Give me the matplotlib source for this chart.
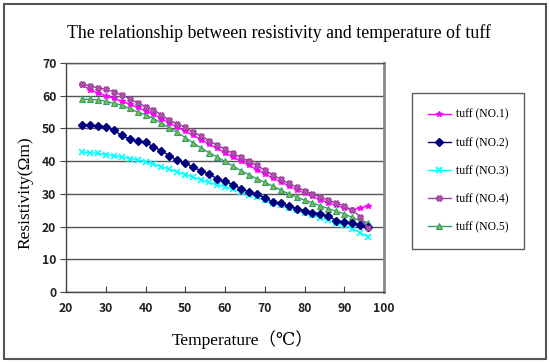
import matplotlib
matplotlib.use("Agg")
import matplotlib.pyplot as plt
from matplotlib.patches import Rectangle

temperature = list(range(24, 97, 2))

tuff_no1 = [63.4, 61.8, 60.8, 60.0, 59.2, 58.3, 57.4, 56.4, 55.4, 54.3, 53.0, 51.7,
            50.4, 49.2, 47.9, 46.6, 45.2, 43.9, 42.6, 41.3, 40.0, 38.7, 37.4, 36.1,
            34.9, 33.7, 32.5, 31.3, 30.2, 29.2, 28.2, 27.3, 26.5, 25.7, 25.0, 25.7, 26.3]
tuff_no2 = [51.2, 51.0, 50.8, 50.5, 49.4, 47.9, 46.7, 46.1, 45.7, 44.4, 43.2, 41.7,
            40.2, 39.4, 38.1, 37.1, 36.1, 34.6, 33.8, 32.8, 31.6, 30.6, 30.0, 28.8,
            27.6, 27.1, 26.3, 25.5, 24.9, 24.3, 23.9, 23.2, 21.8, 21.4, 21.2, 20.4, 19.8]
tuff_no3 = [42.8, 42.6, 42.4, 42.0, 41.6, 41.3, 40.8, 40.4, 39.8, 39.0, 38.3, 37.5,
            36.7, 35.9, 35.1, 34.3, 33.5, 32.8, 32.2, 31.4, 30.6, 29.8, 29.0, 28.0,
            27.2, 26.5, 25.8, 25.1, 24.3, 23.5, 22.7, 22.0, 21.2, 20.4, 19.4, 18.1, 16.8]
tuff_no4 = [63.6, 63.0, 62.4, 62.0, 61.2, 60.3, 59.1, 57.9, 56.7, 55.7, 54.2, 52.5,
            51.4, 50.4, 48.9, 47.7, 46.3, 44.9, 43.6, 42.4, 41.2, 40.0, 38.7, 37.3,
            35.8, 34.5, 33.2, 32.1, 31.0, 30.0, 29.1, 28.1, 27.3, 26.3, 25.1, 23.0, 19.5]
tuff_no5 = [58.9, 58.9, 58.7, 58.3, 57.7, 57.1, 56.1, 55.0, 54.2, 53.0, 51.7, 50.2,
            48.8, 47.2, 45.6, 44.0, 42.6, 41.3, 39.9, 38.5, 37.1, 35.9, 34.6, 33.5,
            32.4, 31.2, 30.0, 29.0, 28.1, 27.3, 26.3, 25.5, 24.7, 23.9, 22.8, 21.8, 21.2]

labels = ["tuff (NO.1)", "tuff (NO.2)", "tuff (NO.3)", "tuff (NO.4)", "tuff (NO.5)"]
x_ticks = [20, 30, 40, 50, 60, 70, 80, 90, 100]
y_ticks = [0, 10, 20, 30, 40, 50, 60, 70]

title = "The relationship between resistivity and temperature of tuff"
xlabel = "Temperature（℃）"
ylabel = "Resistivity(Ωm)"

W, H = 550, 362
fig = plt.figure(figsize=(W / 100, H / 100), dpi=100)

# outer border
fig.patches.append(Rectangle((4 / W, 3 / H), (W - 8) / W, (H - 7) / H,
                             transform=fig.transFigure, fill=False,
                             edgecolor="#555555", linewidth=1.5))

L, R, T, B = 66, 384, 63, 292
ax = fig.add_axes([L / W, 1 - B / H, (R - L) / W, (B - T) / H])

styles = [
    dict(color="#FF00FF", marker="*", markersize=4.0, markerfacecolor="#FF00FF",
         markeredgecolor="#FF00FF"),
    dict(color="#000080", marker="D", markersize=4, markerfacecolor="#000080",
         markeredgecolor="#000080"),
    dict(color="#00FFFF", marker="x", markersize=4.5, markeredgewidth=1.2),
    dict(color="#A040A0", marker="X", markersize=4.2, markerfacecolor="#C060B0",
         markeredgecolor="#A040A0", markeredgewidth=0.8),
    dict(color="#2FA070", marker="^", markersize=5, markerfacecolor="#8DBB3E",
         markeredgecolor="#2FA070", markeredgewidth=0.8),
]
series = [tuff_no1, tuff_no2, tuff_no3, tuff_no4, tuff_no5]
order = [4, 2, 1, 0, 3]
handles = {}
for i in order:
    h, = ax.plot(temperature, series[i], linewidth=1.0, label=labels[i], **styles[i])
    handles[i] = h

ax.set_xlim(20, 100)
ax.set_ylim(0, 70)
ax.set_xticks(x_ticks)
ax.set_yticks(y_ticks)
ax.yaxis.grid(True, color="#555555", linewidth=1.0)
ax.set_axisbelow(True)

tick_font = dict(family=["Noto Sans CJK SC", "DejaVu Sans"], size=8.8, weight="bold")
ax.set_xticklabels([str(v) for v in x_ticks], fontdict=tick_font, color="#222222")
ax.set_yticklabels([str(v) for v in y_ticks], fontdict=tick_font, color="#222222")
ax.tick_params(axis="x", direction="in", length=4, color="#444444", pad=7)
ax.tick_params(axis="y", direction="out", length=4, color="#444444", pad=3)

for s in ["left", "bottom"]:
    ax.spines[s].set_color("#444444")
    ax.spines[s].set_linewidth(1.0)
ax.spines["top"].set_color("#555555")
ax.spines["top"].set_linewidth(1.0)
ax.spines["right"].set_color("#888888")
ax.spines["right"].set_linewidth(2.0)

serif = ["Liberation Serif", "DejaVu Serif", "Noto Sans CJK SC"]
fig.text(279 / W, 1 - 33 / H, title, family=serif, size=12.8, ha="center", va="center")
fig.text(243 / W, 1 - 340 / H, xlabel, family=serif, size=12.5, ha="center", va="center")
fig.text(25 / W, 1 - 193 / H, ylabel, family=serif, size=12.5, ha="center", va="center",
         rotation=90)

leg = fig.legend([handles[i] for i in range(5)], labels,
                 loc="upper left", bbox_to_anchor=(412 / W, 1 - 93 / H),
                 bbox_transform=fig.transFigure,
                 prop=dict(family=serif, size=8.4), frameon=True, fancybox=False,
                 edgecolor="#333333", borderaxespad=0, borderpad=1.35,
                 labelspacing=1.38, handlelength=2.0, handletextpad=0.4)
leg.get_frame().set_linewidth(1.0)

fig.savefig("out.png", dpi=100)
